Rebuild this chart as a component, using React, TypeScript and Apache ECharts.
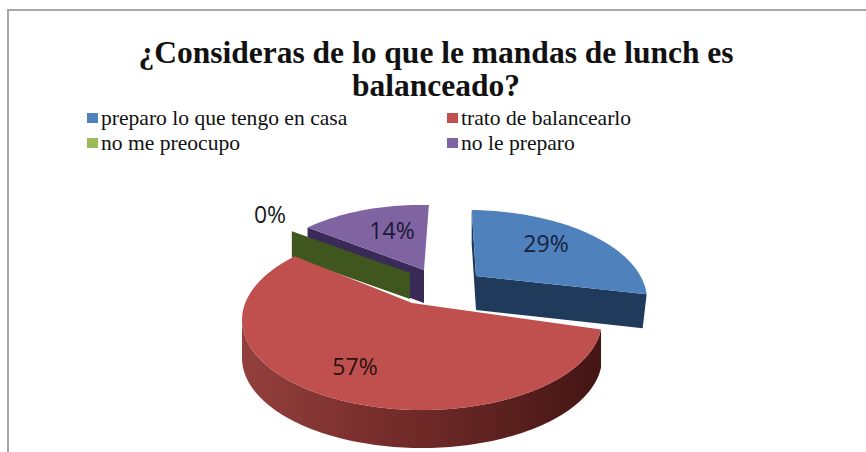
import React, { useEffect, useRef } from "react";
import * as echarts from "echarts";

const titleText = "¿Consideras de lo que le mandas de lunch es\nbalanceado?";
const categories = ["preparo lo que tengo en casa", "trato de balancearlo", "no me preocupo", "no le preparo"];
const shares = [29, 57, 0, 14];
const legendColors = ["#4f81bd", "#c0504d", "#9bbb59", "#8064a2"];

// Tilted-disc projection for each exploded slice: rim ellipse, apex, extrusion depth
const sliceLayout = [
  { cx: 467, cy: 300, rx: 180, ry: 90, ax: 476, ay: 276, depth: 34, taper: 4, skew0: 1.5, skew1: -18, walls: ["start", "end"], top: "#4f81bd", side: "#1f3a5a", z: 1, lx: 546, ly: 243 },
  { cx: 422, cy: 320, rx: 180, ry: 90, ax: 412, ay: 303, depth: 38, taper: 0, skew0: -8.4, skew1: 5.4, walls: ["rim"], top: "#c0504d", side: "#6e2a28", z: 4, lx: 355, ly: 366 },
  { cx: 412, cy: 295, rx: 170, ry: 90, ax: 410, ay: 273, depth: 26, taper: 0, skew0: 5.4, skew1: 5.4, walls: ["start"], top: "#445a20", side: "#3f561e", z: 3, lx: 270, ly: 214 },
  { cx: 420, cy: 295, rx: 170, ry: 90, ax: 424, ay: 270, depth: 33, taper: 0, skew0: 9, skew1: 3, walls: ["start"], top: "#8064a2", side: "#3a2a58", z: 2, lx: 392, ly: 230 },
];
const labelColors = ["#17233f", "#2a1212", "#1a1a1a", "#1c1838"];

const rad = (deg: number) => (deg * Math.PI) / 180;

function rimPoints(g: any, from: number, to: number, dy = 0) {
  const pts: number[][] = [];
  const steps = Math.max(1, Math.ceil(Math.abs(to - from) / 1.5));
  for (let k = 0; k <= steps; k++) {
    const t = from + ((to - from) * k) / steps;
    pts.push([g.cx + g.rx * Math.sin(rad(t)), g.cy - g.ry * Math.cos(rad(t)) + dy]);
  }
  return pts;
}

function renderSlice(params: any, api: any) {
  const i = params.dataIndex;
  const total = shares.reduce((a, b) => a + b, 0);
  const before = shares.slice(0, i).reduce((a, b) => a + b, 0);
  const value = api.value(0);
  const g = sliceLayout[i];
  const phi0 = (before / total) * 360 + g.skew0;
  const phi1 = ((before + value) / total) * 360 + g.skew1;
  const children: any[] = [];
  const apex = [g.ax, g.ay];
  const rim = rimPoints(g, phi0, phi1);

  for (const wall of g.walls) {
    if (wall === "rim") {
      const end = Math.min(phi1, 270);
      const upper = rimPoints(g, phi0, end);
      const lower = rimPoints(g, phi0, end, g.depth).reverse();
      children.push({
        type: "polygon",
        z2: g.z,
        shape: { points: upper.concat(lower) },
        style: {
          fill: new echarts.graphic.LinearGradient(0, 0, 1, 0, [
            { offset: 0, color: "#93403d" },
            { offset: 0.35, color: "#7a2f2d" },
            { offset: 0.7, color: "#5e2220" },
            { offset: 1, color: "#431513" },
          ]),
        },
      });
    } else {
      const corner = wall === "end" ? rim[rim.length - 1] : rim[0];
      const taper = wall === "end" ? g.taper : 0;
      children.push({
        type: "polygon",
        z2: g.z,
        shape: { points: [apex, corner, [corner[0] - taper, corner[1] + g.depth], [apex[0], apex[1] + g.depth]] },
        style: { fill: g.side },
      });
    }
  }
  if (value > 0) {
    children.push({
      type: "polygon",
      z2: g.z,
      shape: { points: [apex, ...rim] },
      style: { fill: g.top },
    });
  }
  children.push({
    type: "text",
    z2: 10,
    x: g.lx,
    y: g.ly,
    style: {
      text: `${value}%`,
      fill: labelColors[i],
      fontFamily: "Open Sans",
      fontSize: 23,
      align: "center",
      verticalAlign: "middle",
    },
  });
  return { type: "group", children };
}

export default function App() {
  const ref = useRef<HTMLDivElement>(null);

  useEffect(() => {
    document.body.style.margin = "0";
    const chart = echarts.init(ref.current!, null, { renderer: "svg" });
    const legendX = [87, 447];
    const legendY = [118, 143];
    const legendItems: any[] = categories.flatMap((name, i) => {
      const col = i % 2;
      const row = Math.floor(i / 2);
      return [
        { type: "rect", shape: { x: legendX[col], y: legendY[row] - 5, width: 11, height: 10 }, style: { fill: legendColors[i] } },
        {
          type: "text",
          x: legendX[col] + 14,
          y: legendY[row],
          scaleX: 1.08,
          style: { text: name, fill: "#111", fontFamily: "Liberation Serif", fontSize: 20, verticalAlign: "middle" },
        },
      ];
    });
    chart.setOption({
      animation: false,
      backgroundColor: "#ffffff",
      title: {
        text: titleText,
        left: 431,
        top: 31,
        textAlign: "center",
        textStyle: { fontFamily: "Liberation Serif", fontWeight: "bold", fontSize: 31.5, lineHeight: 33, color: "#111" },
      },
      graphic: [
        { type: "polyline", shape: { points: [[8, 452], [8, 10], [866, 10]] }, style: { stroke: "#a6a6a6", lineWidth: 2, fill: "none" } },
        ...legendItems,
      ],
      series: [
        {
          type: "custom",
          coordinateSystem: "none",
          renderItem: renderSlice,
          data: shares.map((v, i) => ({ name: categories[i], value: [v] })),
        },
      ],
    });
    return () => chart.dispose();
  }, []);

  return <div ref={ref} style={{ position: "absolute", left: 0, top: 0, width: 866, height: 452 }} />;
}
